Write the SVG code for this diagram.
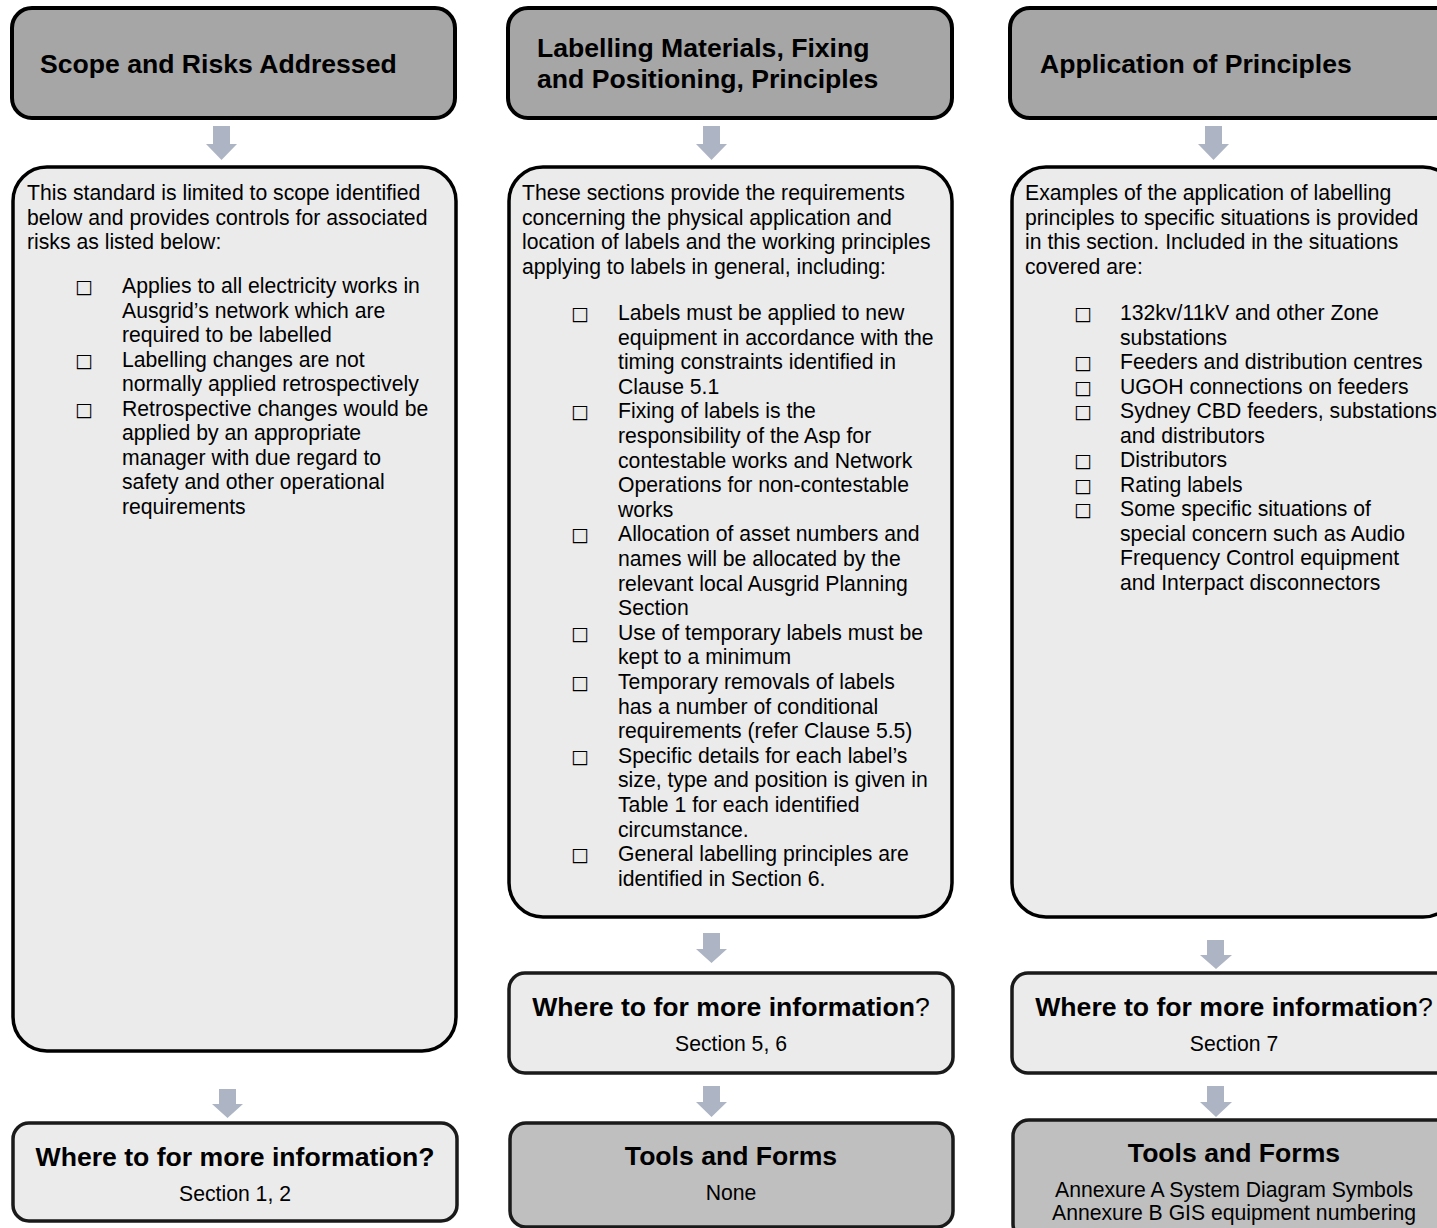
<svg xmlns="http://www.w3.org/2000/svg" width="1437" height="1228" viewBox="0 0 1437 1228">
<defs>
<style>
.hdr{fill:#a6a6a6;stroke:#000;stroke-width:4}
.body{fill:#ebebeb;stroke:#000;stroke-width:3.5}
.where{fill:#ebebeb;stroke:#1a1a1a;stroke-width:3.5}
.tools{fill:#bfbfbf;stroke:#1a1a1a;stroke-width:3.5}
.arr{fill:#adb4c4}
text{font-family:"Liberation Sans",Arial,sans-serif;fill:#000}
.h{font-size:26.6px;font-weight:bold}
.t{font-size:21.2px}
.c{text-anchor:middle}
.q{font-weight:normal}
.b{font-family:"DejaVu Sans",sans-serif;font-size:19px}
</style>
</defs>
<rect width="1437" height="1228" fill="#fff"/>

<g id="connectors">
<path class="arr" d="M213,126H230V144H237L221.5,160L206,144H213Z"/>
<path class="arr" d="M219,1089H236V1104H243L227.5,1118L212,1104H219Z"/>
<path class="arr" d="M703,126H720V144H727L711.5,160L696,144H703Z"/>
<path class="arr" d="M703,933H720V949H727L711.5,963L696,949H703Z"/>
<path class="arr" d="M703,1086H720V1102H727L711.5,1117L696,1102H703Z"/>
<path class="arr" d="M1205,126H1222V144H1229L1213.5,160L1198,144H1205Z"/>
<path class="arr" d="M1207,940H1224V955H1232L1216,969L1200,955H1207Z"/>
<path class="arr" d="M1207,1086H1224V1102H1232L1216,1117L1200,1102H1207Z"/>
</g>

<g id="scope-header">
<rect class="hdr" x="12" y="8" width="443" height="110" rx="20"/>
<text class="h" x="40" y="73">Scope and Risks Addressed</text>
</g>

<g id="scope-body">
<rect class="body" x="13" y="167" width="443" height="884" rx="34"/>
<text class="t" x="27" y="200">This standard is limited to scope identified</text>
<text class="t" x="27" y="224.5">below and provides controls for associated</text>
<text class="t" x="27" y="249">risks as listed below:</text>
<text class="b" x="75" y="293">□</text>
<text class="t" x="122" y="293">Applies to all electricity works in</text>
<text class="t" x="122" y="317.5">Ausgrid’s network which are</text>
<text class="t" x="122" y="342">required to be labelled</text>
<text class="b" x="75" y="366.5">□</text>
<text class="t" x="122" y="366.5">Labelling changes are not</text>
<text class="t" x="122" y="391">normally applied retrospectively</text>
<text class="b" x="75" y="415.5">□</text>
<text class="t" x="122" y="415.5">Retrospective changes would be</text>
<text class="t" x="122" y="440">applied by an appropriate</text>
<text class="t" x="122" y="464.5">manager with due regard to</text>
<text class="t" x="122" y="489">safety and other operational</text>
<text class="t" x="122" y="513.5">requirements</text>
</g>

<g id="scope-where">
<rect class="where" x="13" y="1123" width="444" height="98" rx="16"/>
<text class="h c" x="235" y="1166">Where to for more information?</text>
<text class="t c" x="235" y="1201">Section 1, 2</text>
</g>

<g id="labelling-header">
<rect class="hdr" x="508" y="8" width="444" height="110" rx="20"/>
<text class="h" x="537" y="57">Labelling Materials, Fixing</text>
<text class="h" x="537" y="88">and Positioning, Principles</text>
</g>

<g id="labelling-body">
<rect class="body" x="509" y="167" width="443" height="750" rx="34"/>
<text class="t" x="522" y="200">These sections provide the requirements</text>
<text class="t" x="522" y="224.5">concerning the physical application and</text>
<text class="t" x="522" y="249">location of labels and the working principles</text>
<text class="t" x="522" y="273.5">applying to labels in general, including:</text>
<text class="b" x="571" y="320">□</text>
<text class="t" x="618" y="320">Labels must be applied to new</text>
<text class="t" x="618" y="344.6">equipment in accordance with the</text>
<text class="t" x="618" y="369.2">timing constraints identified in</text>
<text class="t" x="618" y="393.8">Clause 5.1</text>
<text class="b" x="571" y="418.4">□</text>
<text class="t" x="618" y="418.4">Fixing of labels is the</text>
<text class="t" x="618" y="443">responsibility of the Asp for</text>
<text class="t" x="618" y="467.6">contestable works and Network</text>
<text class="t" x="618" y="492.2">Operations for non-contestable</text>
<text class="t" x="618" y="516.8">works</text>
<text class="b" x="571" y="541.4">□</text>
<text class="t" x="618" y="541.4">Allocation of asset numbers and</text>
<text class="t" x="618" y="566">names will be allocated by the</text>
<text class="t" x="618" y="590.6">relevant local Ausgrid Planning</text>
<text class="t" x="618" y="615.2">Section</text>
<text class="b" x="571" y="639.8">□</text>
<text class="t" x="618" y="639.8">Use of temporary labels must be</text>
<text class="t" x="618" y="664.4">kept to a minimum</text>
<text class="b" x="571" y="689">□</text>
<text class="t" x="618" y="689">Temporary removals of labels</text>
<text class="t" x="618" y="713.6">has a number of conditional</text>
<text class="t" x="618" y="738.2">requirements (refer Clause 5.5)</text>
<text class="b" x="571" y="762.8">□</text>
<text class="t" x="618" y="762.8">Specific details for each label’s</text>
<text class="t" x="618" y="787.4">size, type and position is given in</text>
<text class="t" x="618" y="812">Table 1 for each identified</text>
<text class="t" x="618" y="836.6">circumstance.</text>
<text class="b" x="571" y="861.2">□</text>
<text class="t" x="618" y="861.2">General labelling principles are</text>
<text class="t" x="618" y="885.8">identified in Section 6.</text>
</g>

<g id="labelling-where">
<rect class="where" x="509" y="973" width="444" height="100" rx="16"/>
<text class="h c" x="731" y="1016">Where to for more information<tspan class="q">?</tspan></text>
<text class="t c" x="731" y="1051">Section 5, 6</text>
</g>

<g id="labelling-tools">
<rect class="tools" x="510" y="1123" width="443" height="104" rx="16"/>
<text class="h c" x="731" y="1165">Tools and Forms</text>
<text class="t c" x="731" y="1200">None</text>
</g>

<g id="application-header">
<rect class="hdr" x="1010" y="8" width="445" height="110" rx="20"/>
<text class="h" x="1040" y="73">Application of Principles</text>
</g>

<g id="application-body">
<rect class="body" x="1012" y="167" width="445" height="750" rx="34"/>
<text class="t" x="1025" y="200">Examples of the application of labelling</text>
<text class="t" x="1025" y="224.5">principles to specific situations is provided</text>
<text class="t" x="1025" y="249">in this section. Included in the situations</text>
<text class="t" x="1025" y="273.5">covered are:</text>
<text class="b" x="1074" y="320">□</text>
<text class="t" x="1120" y="320">132kv/11kV and other Zone</text>
<text class="t" x="1120" y="344.5">substations</text>
<text class="b" x="1074" y="369">□</text>
<text class="t" x="1120" y="369">Feeders and distribution centres</text>
<text class="b" x="1074" y="393.5">□</text>
<text class="t" x="1120" y="393.5">UGOH connections on feeders</text>
<text class="b" x="1074" y="418">□</text>
<text class="t" x="1120" y="418">Sydney CBD feeders, substations</text>
<text class="t" x="1120" y="442.5">and distributors</text>
<text class="b" x="1074" y="467">□</text>
<text class="t" x="1120" y="467">Distributors</text>
<text class="b" x="1074" y="491.5">□</text>
<text class="t" x="1120" y="491.5">Rating labels</text>
<text class="b" x="1074" y="516">□</text>
<text class="t" x="1120" y="516">Some specific situations of</text>
<text class="t" x="1120" y="540.5">special concern such as Audio</text>
<text class="t" x="1120" y="565">Frequency Control equipment</text>
<text class="t" x="1120" y="589.5">and Interpact disconnectors</text>
</g>

<g id="application-where">
<rect class="where" x="1012" y="973" width="445" height="100" rx="16"/>
<text class="h c" x="1234" y="1016">Where to for more information<tspan class="q">?</tspan></text>
<text class="t c" x="1234" y="1051">Section 7</text>
</g>

<g id="application-tools">
<rect class="tools" x="1013" y="1120" width="445" height="120" rx="16"/>
<text class="h c" x="1234" y="1162">Tools and Forms</text>
<text class="t c" x="1234" y="1197">Annexure A System Diagram Symbols</text>
<text class="t c" x="1234" y="1220">Annexure B GIS equipment numbering</text>
</g>
</svg>
